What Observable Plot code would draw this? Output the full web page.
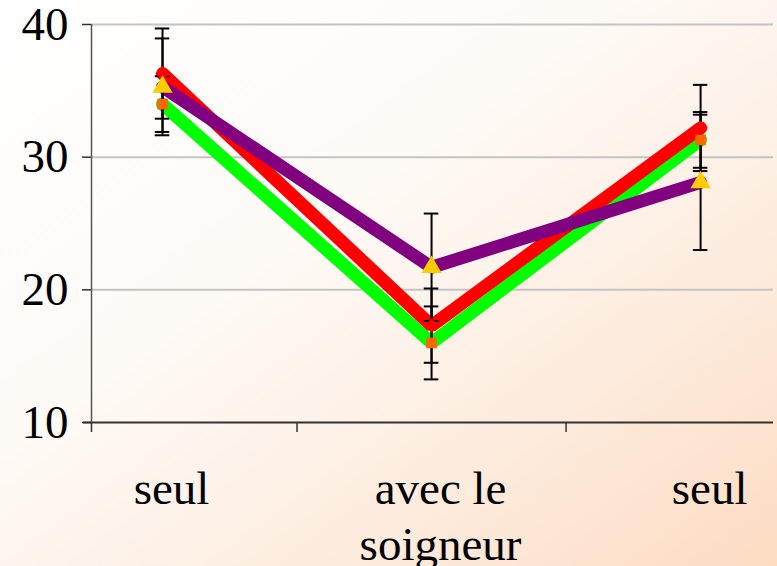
<!DOCTYPE html>
<html>
<head>
<meta charset="utf-8">
<script src="https://cdn.jsdelivr.net/npm/d3@7"></script>
<script src="https://cdn.jsdelivr.net/npm/@observablehq/plot@0.6"></script>
<style>
  html, body { margin: 0; padding: 0; }
  body {
    width: 777px; height: 566px; overflow: hidden;
    background: linear-gradient(to bottom right, #ffffff 0%, #fefaf6 40%, #fdeadb 75%, #fddcc2 100%);
  }
  #chart svg { display: block; }
</style>
</head>
<body>
<div id="chart"></div>
<script>
// Categories (two "seul" phases, one "avec le soigneur")
const categories = ["seul", "avec le\nsoigneur", "seul"];
const categoryIndex = [0, 1, 2];

// Series values and error half-widths
const redValues = [36.3, 17.3, 32.2];
const redErrors = [3.4, 2.8, 3.25];
const greenValues = [34.0, 16.0, 31.3];
const greenErrors = [2.1, 2.75, 2.1];
const purpleValues = [35.3, 21.7, 28.1];
const purpleErrors = [3.65, 4.05, 5.1];

// Axis ticks
const yTicks = [10, 20, 30, 40];
const gridTicks = [20, 30, 40];
const xBoundaryTicks = [0.5, 1.5];

const xMin = -0.264, xMax = 2.271;

function rows(name, values, errors) {
  return categoryIndex.map(i => ({series: name, i, value: values[i], err: errors[i]}));
}
const red = rows("red", redValues, redErrors);
const green = rows("green", greenValues, greenErrors);
const purple = rows("purple", purpleValues, purpleErrors);
const all = [...green, ...red, ...purple];
const labels = categoryIndex.map(i => ({i, label: categories[i]}));

const capHalf = 0.027;

const chart = Plot.plot({
  width: 777,
  height: 566,
  marginLeft: 91,
  marginRight: 4,
  marginTop: 24,
  marginBottom: 144,
  style: {background: "transparent", fontFamily: "'Liberation Serif', 'Times New Roman', serif", color: "black", overflow: "visible"},
  x: {type: "linear", domain: [xMin, xMax], label: null},
  y: {domain: [10, 40], label: null},
  marks: [
    Plot.ruleY(gridTicks, {x1: xMin, x2: xMax, stroke: "#c4c4c4", strokeWidth: 2}),
    Plot.axisY(yTicks, {label: null, tickSize: 9, tickPadding: 14, fontSize: 47, stroke: "#333", strokeWidth: 1.5}),
    Plot.axisX([xMin, ...xBoundaryTicks], {label: null, tickSize: 10, tickFormat: () => "", stroke: "#333", strokeWidth: 1.5}),
    Plot.ruleX([xMin], {y1: 10, y2: 40, stroke: "#555", strokeWidth: 1.5}),
    Plot.ruleY([10], {x1: xMin, x2: xMax, insetLeft: -8, stroke: "#333", strokeWidth: 2}),
    Plot.text(labels, {x: "i", y: 10, text: "label", dx: 9, dy: 42, lineAnchor: "top", lineHeight: 1.19, fontSize: 47, fill: "black"}),
    Plot.line(green, {x: "i", y: "value", stroke: "#00ff00", strokeWidth: 13, strokeLinejoin: "miter"}),
    Plot.line(red, {x: "i", y: "value", stroke: "#ff0000", strokeWidth: 13, strokeLinejoin: "miter"}),
    Plot.line(purple, {x: "i", y: "value", stroke: "#800080", strokeWidth: 13, strokeLinejoin: "miter"}),
    Plot.ruleX(all, {x: "i", y1: d => d.value - d.err, y2: d => d.value + d.err, stroke: "black", strokeWidth: 2}),
    Plot.ruleY(all, {y: d => d.value + d.err, x1: d => d.i - capHalf, x2: d => d.i + capHalf, stroke: "black", strokeWidth: 2}),
    Plot.ruleY(all, {y: d => d.value - d.err, x1: d => d.i - capHalf, x2: d => d.i + capHalf, stroke: "black", strokeWidth: 2}),
    Plot.dot(red, {x: "i", y: "value", symbol: "diamond2", r: 6.5, fill: "#ff0000", stroke: "none"}),
    Plot.dot(green, {x: "i", y: "value", symbol: "square", r: 6, fill: "#ff6600", stroke: "none"}),
    Plot.dot(purple, {x: "i", y: "value", symbol: "triangle", r: 7.5, fill: "#ffcc00", stroke: "none"})
  ]
});
document.getElementById("chart").append(chart);
</script>
</body>
</html>
